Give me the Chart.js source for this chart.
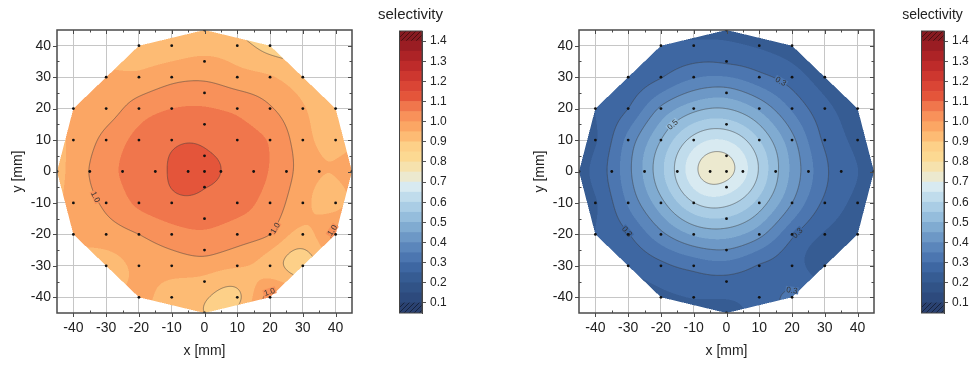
<!DOCTYPE html>
<html>
<head>
<meta charset="utf-8">
<script src="https://cdn.jsdelivr.net/npm/chart.js@4.4.1/dist/chart.umd.min.js"></script>
<style>
  body { margin: 0; background: #fff; width: 972px; height: 365px; position: relative; overflow: hidden; }
  canvas { position: absolute; top: 0; }
</style>
</head>
<body>
<canvas id="mapA" width="372" height="365" style="left:0px"></canvas>
<canvas id="barA" width="100" height="365" style="left:372px"></canvas>
<canvas id="mapB" width="372" height="365" style="left:522px"></canvas>
<canvas id="barB" width="78" height="365" style="left:894px"></canvas>
<script>
// measurement positions on the wafer, row by row from top (mm)
const xMm = [
  0,
  -20, -10, 10, 20,
  0,
  -30, -20, -10, 10, 20, 30,
  0,
  -40, -30, -20, -10, 10, 20, 30, 40,
  0,
  -40, -30, -20, -10, 10, 20, 30, 40,
  0,
  -45, -35, -25, -15, -5, 0, 5, 15, 25, 35, 45,
  0,
  -40, -30, -20, -10, 10, 20, 30, 40,
  0,
  -40, -30, -20, -10, 10, 20, 30, 40,
  0,
  -30, -20, -10, 10, 20, 30,
  0,
  -20, -10, 10, 20,
  0
];
const yMm = [
  45,
  40, 40, 40, 40,
  35,
  30, 30, 30, 30, 30, 30,
  25,
  20, 20, 20, 20, 20, 20, 20, 20,
  15,
  10, 10, 10, 10, 10, 10, 10, 10,
  5,
  0, 0, 0, 0, 0, 0, 0, 0, 0, 0, 0,
  -5,
  -10, -10, -10, -10, -10, -10, -10, -10,
  -15,
  -20, -20, -20, -20, -20, -20, -20, -20,
  -25,
  -30, -30, -30, -30, -30, -30,
  -35,
  -40, -40, -40, -40,
  -45
];
// selectivity, left map
const selA = [
  0.91,
  0.92, 0.92, 0.92, 0.88,
  0.96,
  0.958, 0.96, 0.985, 0.97, 0.955, 0.92,
  1.025,
  0.965, 0.975, 1.025, 1.05, 1.04, 1.005, 0.955, 0.92,
  1.075,
  0.96, 1.015, 1.065, 1.09, 1.07, 1.045, 0.97, 0.93,
  1.108,
  0.935, 1.002, 1.055, 1.08, 1.13, 1.12, 1.10, 1.07, 1.015, 0.955, 0.975,
  1.102,
  0.965, 1.01, 1.06, 1.085, 1.065, 1.03, 0.965, 0.93,
  1.065,
  0.96, 0.975, 1.0, 1.03, 1.025, 1.0, 0.935, 1.015,
  1.015,
  0.93, 0.96, 0.97, 0.955, 0.925, 0.87,
  0.935,
  0.96, 0.93, 0.888, 1.02,
  0.90
];
// selectivity, right map
const selB = [
  0.235,
  0.25, 0.26, 0.245, 0.225,
  0.293,
  0.26, 0.297, 0.345, 0.316, 0.275, 0.225,
  0.426,
  0.25, 0.30, 0.41, 0.483, 0.44, 0.343, 0.265, 0.225,
  0.574,
  0.245, 0.367, 0.50, 0.62, 0.55, 0.415, 0.29, 0.24,
  0.705,
  0.23, 0.317, 0.46, 0.613, 0.73, 0.72, 0.67, 0.513, 0.369, 0.271, 0.24,
  0.677,
  0.245, 0.357, 0.483, 0.598, 0.53, 0.40, 0.289, 0.24,
  0.544,
  0.25, 0.297, 0.386, 0.457, 0.416, 0.31, 0.245, 0.228,
  0.397,
  0.255, 0.287, 0.317, 0.296, 0.27, 0.22,
  0.283,
  0.24, 0.252, 0.27, 0.31,
  0.235
];

const axisTicks = [-40, -30, -20, -10, 0, 10, 20, 30, 40];
const barTicks = [0.1, 0.2, 0.3, 0.4, 0.5, 0.6, 0.7, 0.8, 0.9, 1.0, 1.1, 1.2, 1.3, 1.4];
const levels = [0.05, 0.10, 0.15, 0.20, 0.25, 0.30, 0.35, 0.40, 0.45, 0.50, 0.55, 0.60, 0.65, 0.70, 0.75,
  0.80, 0.85, 0.90, 0.95, 1.00, 1.05, 1.10, 1.15, 1.20, 1.25, 1.30, 1.35, 1.40, 1.45];
const bandColors = ['#2a4170', '#2d4a7d', '#315387', '#365c93', '#3e67a2', '#4c76b0', '#5b86bb', '#6d98c6',
  '#80abd1', '#95bddc', '#aacde5', '#c0dcec', '#d8eaf1', '#ece9cf', '#f6e2ad', '#fcd992', '#fdd088',
  '#fdbb74', '#fba664', '#f8915a', '#f0764c', '#e4553a', '#da4535', '#cd372f', '#be2b2a', '#ad2326',
  '#9a1d23', '#871a20'];
// contour labels: [level, near x, near y]
const labelsA = [[1.0, -35, -9], [1.0, 20, -17], [1.0, 38, -18], [1.0, 19.5, -37]];
const labelsB = [[0.3, 17, 29.5], [0.5, -16.4, 14.9], [0.3, -31.6, -20.2], [0.3, 22.8, -20.7], [0.3, 20.3, -36]];

const FONT = '"Liberation Sans", Arial, sans-serif';
const bandRgb = bandColors.map(h => [1, 3, 5].map(i => parseInt(h.substr(i, 2), 16)));

// Bowyer-Watson triangulation, used as the wafer outline (convex hull of the points)
function triangulate(X, Y) {
  const n = X.length;
  const px = X.concat([-1e4, 1e4, 0]), py = Y.concat([-1e4, -1e4, 1e4]);
  let tris = [[n, n + 1, n + 2]];
  function circ(t) {
    const [a, b, c] = t;
    const ax = px[a], ay = py[a], bx = px[b], by = py[b], cx = px[c], cy = py[c];
    const d = 2 * (ax * (by - cy) + bx * (cy - ay) + cx * (ay - by));
    const ux = ((ax * ax + ay * ay) * (by - cy) + (bx * bx + by * by) * (cy - ay) + (cx * cx + cy * cy) * (ay - by)) / d;
    const uy = ((ax * ax + ay * ay) * (cx - bx) + (bx * bx + by * by) * (ax - cx) + (cx * cx + cy * cy) * (bx - ax)) / d;
    return [ux, uy, (ax - ux) ** 2 + (ay - uy) ** 2];
  }
  for (let i = 0; i < n; i++) {
    const bad = [], keep = [];
    for (const t of tris) {
      const [ux, uy, r2] = t.c || (t.c = circ(t));
      ((px[i] - ux) ** 2 + (py[i] - uy) ** 2 < r2 * (1 - 1e-12) ? bad : keep).push(t);
    }
    const edges = new Map();
    for (const t of bad) {
      for (const [a, b] of [[t[0], t[1]], [t[1], t[2]], [t[2], t[0]]]) {
        const k = a < b ? a + ',' + b : b + ',' + a;
        if (edges.has(k)) edges.delete(k); else edges.set(k, [a, b]);
      }
    }
    for (const [a, b] of edges.values()) keep.push([a, b, i]);
    tris = keep;
  }
  return tris.filter(t => t[0] < n && t[1] < n && t[2] < n).map(([a, b, c]) => {
    const x1 = X[a], y1 = Y[a], x2 = X[b], y2 = Y[b], x3 = X[c], y3 = Y[c];
    const d = (y2 - y3) * (x1 - x3) + (x3 - x2) * (y1 - y3);
    return { x1, y1, x2, y2, x3, y3, d,
      minX: Math.min(x1, x2, x3), maxX: Math.max(x1, x2, x3), minY: Math.min(y1, y2, y3), maxY: Math.max(y1, y2, y3) };
  }).filter(t => Math.abs(t.d) > 1e-6);
}

function inside(T, x, y) {
  for (const t of T) {
    if (x < t.minX - 1e-9 || x > t.maxX + 1e-9 || y < t.minY - 1e-9 || y > t.maxY + 1e-9) continue;
    const l1 = ((t.y2 - t.y3) * (x - t.x3) + (t.x3 - t.x2) * (y - t.y3)) / t.d;
    const l2 = ((t.y3 - t.y1) * (x - t.x3) + (t.x1 - t.x3) * (y - t.y3)) / t.d;
    if (l1 >= -1e-9 && l2 >= -1e-9 && 1 - l1 - l2 >= -1e-9) return true;
  }
  return false;
}

// thin-plate spline through the measured values
function thinPlate(X, Y, V) {
  const n = X.length, m = n + 3;
  const phi = r2 => r2 > 0 ? 0.5 * r2 * Math.log(r2) : 0;
  const A = [];
  for (let i = 0; i < m; i++) A.push(new Array(m + 1).fill(0));
  for (let i = 0; i < n; i++) {
    for (let j = 0; j < n; j++) A[i][j] = phi((X[i] - X[j]) ** 2 + (Y[i] - Y[j]) ** 2);
    A[i][n] = 1; A[i][n + 1] = X[i]; A[i][n + 2] = Y[i];
    A[n][i] = 1; A[n + 1][i] = X[i]; A[n + 2][i] = Y[i];
    A[i][m] = V[i];
  }
  for (let c = 0; c < m; c++) {
    let p = c;
    for (let r = c + 1; r < m; r++) if (Math.abs(A[r][c]) > Math.abs(A[p][c])) p = r;
    [A[c], A[p]] = [A[p], A[c]];
    for (let r = 0; r < m; r++) {
      if (r === c) continue;
      const f = A[r][c] / A[c][c];
      if (f !== 0) for (let k = c; k <= m; k++) A[r][k] -= f * A[c][k];
    }
  }
  const w = A.map((row, i) => row[m] / row[i]);
  return (x, y) => {
    let s = w[n] + w[n + 1] * x + w[n + 2] * y;
    for (let i = 0; i < n; i++) s += w[i] * phi((x - X[i]) ** 2 + (y - Y[i]) ** 2);
    return s;
  };
}

function bandOf(v) {
  const k = Math.floor((v - levels[0]) / (levels[1] - levels[0]) + 1e-9);
  return Math.max(0, Math.min(bandColors.length - 1, k));
}

function contourPlugin(V, spots) {
  const T = triangulate(xMm, yMm);
  const f = thinPlate(xMm, yMm, V);
  return {
    id: 'contour',
    beforeDatasetsDraw(chart) {
      const { ctx, chartArea: a, scales: { x: sx, y: sy } } = chart;
      const ss = 2, w = Math.round(a.right - a.left), h = Math.round(a.bottom - a.top);
      const W = w * ss, H = h * ss;
      const grid = new Float32Array(W * H).fill(NaN);
      const off = document.createElement('canvas');
      off.width = W; off.height = H;
      const octx = off.getContext('2d');
      const img = octx.createImageData(W, H);
      for (let j = 0; j < H; j++) {
        const Y = sy.getValueForPixel(a.top + (j + 0.5) / ss);
        for (let i = 0; i < W; i++) {
          const X = sx.getValueForPixel(a.left + (i + 0.5) / ss);
          if (!inside(T, X, Y)) continue;
          const v = f(X, Y);
          grid[j * W + i] = v;
          const c = bandRgb[bandOf(v)], p = (j * W + i) * 4;
          img.data[p] = c[0]; img.data[p + 1] = c[1]; img.data[p + 2] = c[2]; img.data[p + 3] = 255;
        }
      }
      octx.putImageData(img, 0, 0);
      ctx.save();
      ctx.imageSmoothingEnabled = true;
      ctx.drawImage(off, a.left, a.top, w, h);
      // contour lines every 0.1 (marching squares on the sample grid)
      const segs = [];
      const gx = i => a.left + (i + 0.5) / ss, gy = j => a.top + (j + 0.5) / ss;
      ctx.strokeStyle = 'rgba(60,60,60,0.75)';
      ctx.lineWidth = 0.7;
      ctx.beginPath();
      for (let j = 0; j < H - 1; j++) {
        for (let i = 0; i < W - 1; i++) {
          const v0 = grid[j * W + i], v1 = grid[j * W + i + 1], v2 = grid[(j + 1) * W + i + 1], v3 = grid[(j + 1) * W + i];
          if (isNaN(v0) || isNaN(v1) || isNaN(v2) || isNaN(v3)) continue;
          const lo = Math.min(v0, v1, v2, v3), hi = Math.max(v0, v1, v2, v3);
          for (const lev of barTicks) {
            if (lev < lo || lev > hi) continue;
            const C = [[gx(i), gy(j), v0], [gx(i + 1), gy(j), v1], [gx(i + 1), gy(j + 1), v2], [gx(i), gy(j + 1), v3]];
            const pts = [];
            for (let k = 0; k < 4; k++) {
              const p = C[k], q = C[(k + 1) % 4];
              if ((p[2] >= lev) !== (q[2] >= lev)) {
                const t = (lev - p[2]) / (q[2] - p[2]);
                pts.push([p[0] + t * (q[0] - p[0]), p[1] + t * (q[1] - p[1])]);
              }
            }
            for (let k = 0; k + 1 < pts.length; k += 2) {
              ctx.moveTo(pts[k][0], pts[k][1]);
              ctx.lineTo(pts[k + 1][0], pts[k + 1][1]);
              segs.push({ lev, x: (pts[k][0] + pts[k + 1][0]) / 2, y: (pts[k][1] + pts[k + 1][1]) / 2 });
            }
          }
        }
      }
      ctx.stroke();
      // contour labels, oriented along the line
      for (const [lev, lx, ly] of spots) {
        const px = sx.getPixelForValue(lx), py = sy.getPixelForValue(ly);
        let best = null, bd = 1e9;
        for (const s of segs) {
          if (Math.abs(s.lev - lev) > 1e-9) continue;
          const d = (s.x - px) ** 2 + (s.y - py) ** 2;
          if (d < bd) { bd = d; best = s; }
        }
        if (!best) continue;
        const X = sx.getValueForPixel(best.x), Y = sy.getValueForPixel(best.y), e = 0.3;
        const dvx = (f(X + e, Y) - f(X - e, Y)) / (sx.getPixelForValue(X + e) - sx.getPixelForValue(X - e));
        const dvy = (f(X, Y + e) - f(X, Y - e)) / (sy.getPixelForValue(Y + e) - sy.getPixelForValue(Y - e));
        let ang = Math.atan2(dvy, dvx) + Math.PI / 2;
        while (ang > Math.PI / 2) ang -= Math.PI;
        while (ang < -Math.PI / 2) ang += Math.PI;
        const txt = lev.toFixed(1);
        ctx.save();
        ctx.translate(best.x, best.y);
        ctx.rotate(ang);
        ctx.font = '8px ' + FONT;
        const tw = ctx.measureText(txt).width;
        ctx.fillStyle = bandColors[bandOf(f(X, Y))];
        ctx.fillRect(-tw / 2 - 1, -3.5, tw + 2, 7);
        ctx.fillStyle = '#333';
        ctx.textAlign = 'center';
        ctx.textBaseline = 'middle';
        ctx.fillText(txt, 0, 0.5);
        ctx.restore();
      }
      ctx.restore();
    }
  };
}

const framePlugin = {
  id: 'frame',
  afterDraw(chart) {
    const { ctx, chartArea: a, scales: { x: sx, y: sy } } = chart;
    ctx.save();
    ctx.strokeStyle = '#4a4a4a';
    ctx.lineWidth = 1;
    ctx.beginPath();
    const minor = axisTicks.slice(1).map(v => v - 5);
    for (const v of axisTicks) {
      const px = Math.round(sx.getPixelForValue(v)) + 0.5, py = Math.round(sy.getPixelForValue(v)) + 0.5;
      ctx.moveTo(px, a.bottom); ctx.lineTo(px, a.bottom + 4);
      ctx.moveTo(px, a.top); ctx.lineTo(px, a.top + 4);
      ctx.moveTo(a.left, py); ctx.lineTo(a.left - 4, py);
      ctx.moveTo(a.right, py); ctx.lineTo(a.right - 4, py);
    }
    for (const v of minor) {
      const px = Math.round(sx.getPixelForValue(v)) + 0.5, py = Math.round(sy.getPixelForValue(v)) + 0.5;
      ctx.moveTo(px, a.bottom); ctx.lineTo(px, a.bottom - 2.5);
      ctx.moveTo(px, a.top); ctx.lineTo(px, a.top + 2.5);
      ctx.moveTo(a.left, py); ctx.lineTo(a.left + 2.5, py);
      ctx.moveTo(a.right, py); ctx.lineTo(a.right - 2.5, py);
    }
    ctx.stroke();
    ctx.lineWidth = 1.5;
    ctx.strokeRect(a.left, a.top, a.right - a.left, a.bottom - a.top);
    ctx.restore();
  }
};

function mapChart(id, values, spots) {
  return new Chart(document.getElementById(id), {
    type: 'scatter',
    data: {
      datasets: [{
        data: xMm.map((x, i) => ({ x, y: yMm[i] })),
        pointRadius: 1.4, pointBackgroundColor: '#111', pointBorderWidth: 0, pointHoverRadius: 1.4
      }]
    },
    options: {
      responsive: false, animation: false, events: [],
      layout: { padding: { left: 0, top: 30, right: 20, bottom: 0 } },
      plugins: { legend: { display: false }, tooltip: { enabled: false } },
      scales: {
        x: {
          type: 'linear', min: -45, max: 45,
          afterBuildTicks: s => { s.ticks = axisTicks.map(v => ({ value: v })); },
          afterFit: s => { s.height = 52; },
          grid: { color: '#c6c6c6', lineWidth: 1, drawTicks: false },
          border: { display: false },
          ticks: { padding: 7, color: '#222', font: { family: FONT, size: 14 } },
          title: { display: true, text: 'x [mm]', color: '#222', font: { family: FONT, size: 14 }, padding: { top: 0, bottom: 5 } }
        },
        y: {
          type: 'linear', min: -45, max: 45,
          afterBuildTicks: s => { s.ticks = axisTicks.map(v => ({ value: v })); },
          afterFit: s => { s.width = 57; },
          grid: { color: '#c6c6c6', lineWidth: 1, drawTicks: false },
          border: { display: false },
          ticks: { padding: 6, color: '#222', font: { family: FONT, size: 14 } },
          title: { display: true, text: 'y [mm]', color: '#222', font: { family: FONT, size: 14 }, padding: { top: 10, bottom: 0 } }
        }
      }
    },
    plugins: [contourPlugin(values, spots), framePlugin]
  });
}

function hatch(color) {
  const c = document.createElement('canvas');
  c.width = c.height = 5;
  const g = c.getContext('2d');
  g.fillStyle = color; g.fillRect(0, 0, 5, 5);
  g.strokeStyle = 'rgba(0,0,0,0.45)'; g.lineWidth = 1;
  g.beginPath(); g.moveTo(-1, 6); g.lineTo(6, -1); g.stroke();
  return g.createPattern(c, 'repeat');
}

function colorBar(id, titleSize) {
  const last = bandColors.length - 1;
  return new Chart(document.getElementById(id), {
    type: 'bar',
    data: {
      labels: [''],
      datasets: bandColors.map((c, i) => ({
        data: [[levels[i], levels[i + 1]]],
        backgroundColor: (i === 0 || i === last) ? hatch(c) : c,
        borderWidth: 0, barPercentage: 1, categoryPercentage: 1, grouped: false
      }))
    },
    options: {
      responsive: false, animation: false, events: [],
      layout: { padding: { left: 27, top: 31, right: 0, bottom: 52 } },
      plugins: { legend: { display: false }, tooltip: { enabled: false } },
      scales: {
        x: { display: false },
        y: {
          position: 'right', min: 0.05, max: 1.45,
          afterBuildTicks: s => { s.ticks = barTicks.map(v => ({ value: v })); },
          afterFit: s => { s.width = s.chart.width - 50; },
          grid: { drawOnChartArea: false, drawTicks: true, tickLength: 4, color: '#555' },
          border: { display: true, color: '#444' },
          ticks: { padding: 4, color: '#222', font: { family: FONT, size: 12 }, callback: v => v.toFixed(1) }
        }
      }
    },
    plugins: [{
      id: 'barFrame',
      afterDraw(chart) {
        const { ctx, chartArea: a } = chart;
        ctx.save();
        ctx.strokeStyle = '#444'; ctx.lineWidth = 1;
        ctx.strokeRect(a.left + 0.5, a.top, a.right - a.left - 0.5, a.bottom - a.top);
        ctx.fillStyle = '#222';
        ctx.font = titleSize + 'px ' + FONT;
        ctx.textAlign = 'center'; ctx.textBaseline = 'middle';
        ctx.fillText('selectivity', (a.left + a.right) / 2, 15);
        ctx.restore();
      }
    }]
  });
}

mapChart('mapA', selA, labelsA);
colorBar('barA', 15);
mapChart('mapB', selB, labelsB);
colorBar('barB', 14);
</script>
</body>
</html>
